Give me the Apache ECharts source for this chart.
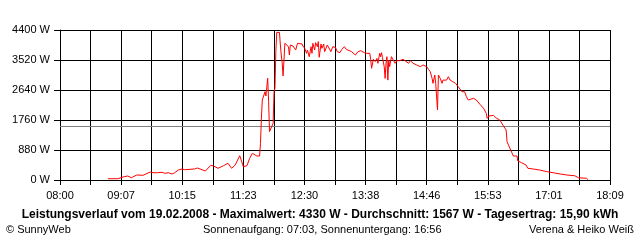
<!DOCTYPE html>
<html><head><meta charset="utf-8">
<script src="https://cdn.jsdelivr.net/npm/echarts@6/dist/echarts.min.js"></script>
<style>html,body{margin:0;padding:0;background:#fff}#c{width:640px;height:240px}</style>
</head><body><div id="c"></div>
<script>
const times = ["08:53","09:04","09:05","09:11","09:15","09:19","09:21","09:25","09:32","09:40","09:43","09:45","09:48","09:53","09:56","10:00","10:04","10:07","10:11","10:15","10:18","10:29","10:32","10:35","10:41","10:43","10:47","10:50","10:55","11:01","11:06","11:10","11:14","11:19","11:21","11:23","11:27","11:30","11:33","11:38","11:41","11:42","11:43","11:44","11:46","11:47","11:48","11:49","11:50","11:51","11:52","11:53","11:54","11:56","11:57","11:58","11:59","12:00","12:03","12:04","12:05","12:06","12:07","12:08","12:09","12:11","12:13","12:14","12:15","12:18","12:20","12:21","12:23","12:25","12:28","12:29","12:31","12:33","12:34","12:36","12:38","12:39","12:40","12:42","12:43","12:45","12:46","12:47","12:49","12:50","12:52","12:53","12:56","12:58","13:00","13:02","13:05","13:07","13:10","13:12","13:15","13:17","13:19","13:23","13:27","13:30","13:33","13:37","13:40","13:43","13:44","13:45","13:47","13:49","13:51","13:52","13:54","13:55","13:56","13:57","13:59","14:00","14:01","14:02","14:03","14:04","14:05","14:07","14:09","14:11","14:13","14:16","14:20","14:22","14:26","14:28","14:31","14:35","14:39","14:42","14:46","14:48","14:50","14:52","14:53","14:55","14:56","14:58","14:59","15:01","15:03","15:04","15:06","15:08","15:10","15:12","15:15","15:18","15:21","15:23","15:25","15:28","15:30","15:32","15:34","15:38","15:41","15:45","15:49","15:52","15:53","15:55","16:00","16:03","16:07","16:11","16:14","16:15","16:17","16:19","16:22","16:26","16:27","16:31","16:36","16:38","16:44","16:51","16:59","17:06","17:14","17:21","17:30","17:34","17:43","17:45"];
const watts = [38,38,67,97,117,67,117,147,138,235,214,196,214,226,196,214,176,214,293,323,302,323,352,323,264,293,431,411,343,419,490,343,440,713,557,390,419,637,783,704,704,1077,1810,2347,2396,2590,2464,2737,2983,2297,1420,1370,1470,1660,2590,2690,3770,4330,4330,3960,3666,3443,3053,3520,4010,3960,3910,3666,3960,3930,3910,3813,4010,3990,3990,3930,3862,3715,3813,3617,3910,3715,4010,3813,4030,3910,4060,3600,3990,3862,3990,3764,3960,3910,3764,3910,3890,3764,3735,3832,3910,3832,3890,3764,3666,3764,3793,3734,3715,3715,3540,3276,3540,3472,3568,3423,3715,3617,3734,3598,3325,2980,3423,3617,2930,3520,3325,3617,3568,3423,3500,3500,3540,3520,3423,3500,3423,3374,3325,3374,3325,3246,3178,2983,2835,3080,2835,2053,3080,2983,2835,2930,2883,2930,3030,2930,2884,2835,2737,2690,2590,2590,2444,2347,2396,2396,2347,2220,2103,1955,1810,1877,1896,1818,1760,1584,1467,1125,1000,880,704,704,557,508,440,343,323,293,245,214,176,147,125,67,50,0];
const yMax = 4400;
const yStep = 880;
const average = 1567;
const startClock = "08:00";
const endClock = "18:09";
const xDivisions = 18;

const toMin = s => { const p = s.split(':').map(Number); return p[0] * 60 + p[1]; };
const t0 = toMin(startClock);
const span = toMin(endClock) - t0;
const step = span / xDivisions;
const data = times.map((t, i) => [toMin(t) - t0, watts[i]]);
const pad = n => (n < 10 ? '0' : '') + n;
const FONT = 'Liberation Sans, Arial, sans-serif';

const chart = echarts.init(document.getElementById('c'), null, {renderer: 'canvas'});
chart.setOption({
  backgroundColor: '#fff',
  animation: false,
  grid: {left: 60, top: 30, right: 30, bottom: 60, containLabel: false},
  xAxis: {
    type: 'value', min: 0, max: span, interval: step,
    axisLine: {show: true, lineStyle: {color: '#000', width: 1}},
    axisTick: {show: true, length: 5, lineStyle: {color: '#000'}},
    splitLine: {show: true, lineStyle: {color: '#000', width: 1}},
    axisLabel: {
      color: '#000', fontFamily: FONT, fontSize: 11, margin: 10,
      showMinLabel: true, showMaxLabel: true,
      formatter: v => {
        const k = Math.round(v / step);
        if (k % 2) return '';
        const m = Math.floor(t0 + v + 1e-6);
        return pad(Math.floor(m / 60)) + ':' + pad(m % 60);
      }
    }
  },
  yAxis: {
    type: 'value', min: 0, max: yMax, interval: yStep,
    axisLine: {show: true, lineStyle: {color: '#000', width: 1}},
    axisTick: {show: true, length: 6, lineStyle: {color: '#000'}},
    splitLine: {show: true, lineStyle: {color: '#000', width: 1}},
    axisLabel: {color: '#000', fontFamily: FONT, fontSize: 11, margin: 10, formatter: v => String(v) + ' W'}
  },
  series: [{
    type: 'line', data: data, showSymbol: false, smooth: false,
    lineStyle: {color: '#ff0000', width: 1}, z: 5,
    markLine: {
      silent: true, symbol: ['none', 'none'], label: {show: false},
      lineStyle: {color: '#808080', type: 'solid', width: 1},
      data: [{yAxis: average}]
    }
  }],
  title: [
    {text: 'Leistungsverlauf vom 19.02.2008 - Maximalwert: 4330 W - Durchschnitt: 1567 W - Tagesertrag: 15,90 kWh',
     left: 'center', top: 209, padding: 0,
     textStyle: {color: '#000', fontFamily: FONT, fontSize: 12, fontWeight: 'bold'}},
    {text: '© SunnyWeb', left: 6, top: 224, padding: 0,
     textStyle: {color: '#000', fontFamily: FONT, fontSize: 11, fontWeight: 'normal'}},
    {text: 'Sonnenaufgang: 07:03, Sonnenuntergang: 16:56', left: 203, top: 224, padding: 0,
     textStyle: {color: '#000', fontFamily: FONT, fontSize: 11, fontWeight: 'normal'}},
    {text: 'Verena & Heiko Weiß', right: 6, top: 224, padding: 0,
     textStyle: {color: '#000', fontFamily: FONT, fontSize: 11, fontWeight: 'normal'}}
  ]
});
</script></body></html>
